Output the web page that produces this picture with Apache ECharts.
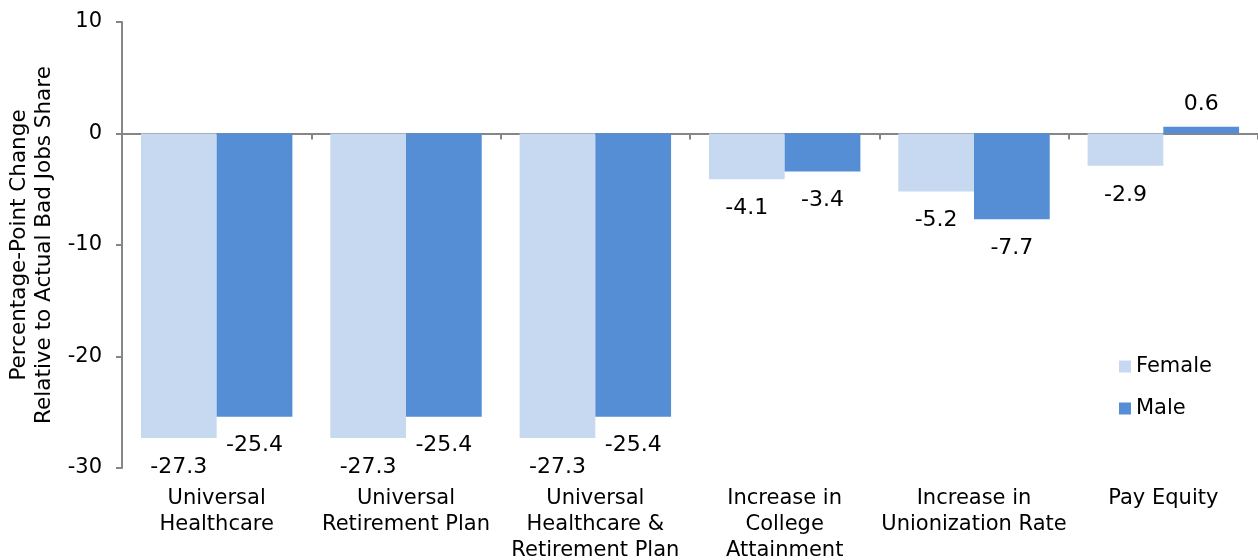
<!DOCTYPE html>
<html>
<head>
<meta charset="utf-8">
<script src="https://cdn.jsdelivr.net/npm/echarts@6/dist/echarts.min.js"></script>
<style>
  html, body { margin: 0; padding: 0; background: #fff; }
  #item { width: 1258px; height: 560px; }
</style>
</head>
<body>
<div id="item"></div>
<script>
var item = echarts.init(document.getElementById('item'));
/*-- 类别 --*/
let categories = ['Universal\nHealthcare', 'Universal\nRetirement Plan', 'Universal\nHealthcare &\nRetirement Plan',
  'Increase in\nCollege\nAttainment', 'Increase in\nUnionization Rate', 'Pay Equity'];
/*-- 数据 --*/
let female = [-27.3, -27.3, -27.3, -4.1, -5.2, -2.9];
let male = [-25.4, -25.4, -25.4, -3.4, -7.7, 0.6];
let yTicks = { min: -30, max: 10, interval: 10 };

let font = 'DejaVu Sans, Verdana, sans-serif';
let axisGrey = '#868686';

function barLabel() {
    return {
        show: true,
        position: 'bottom',
        distance: 18,
        color: '#000',
        fontFamily: font,
        fontSize: 22,
        formatter: function (p) { return p.value.toFixed(1); }
    };
}

let option = {
    animation: false,
    textStyle: { fontFamily: font },
    grid: { left: 122, right: 0, top: 22, bottom: 92, outerBoundsMode: 'none' },
    legend: {
        orient: 'vertical',
        left: 1119,
        top: 356,
        padding: 0,
        icon: 'rect',
        itemWidth: 12,
        itemHeight: 12,
        itemGap: 21,
        textStyle: { fontFamily: font, fontSize: 21, color: '#000' },
        data: ['Female', 'Male']
    },
    xAxis: [{
        type: 'category',
        data: categories,
        axisLine: { onZero: true, lineStyle: { color: axisGrey, width: 2 } },
        axisTick: { show: true, length: 6, lineStyle: { color: axisGrey, width: 2 } },
        axisLabel: { show: false }
    }, {
        type: 'category',
        data: categories,
        position: 'bottom',
        axisLine: { show: false, onZero: false },
        axisTick: { show: false },
        axisLabel: {
            show: true,
            color: '#000',
            fontFamily: font,
            fontSize: 21,
            lineHeight: 26,
            margin: 18,
            interval: 0
        }
    }],
    yAxis: {
        type: 'value',
        min: yTicks.min,
        max: yTicks.max,
        interval: yTicks.interval,
        name: 'Percentage-Point Change\nRelative to Actual Bad Jobs Share',
        nameLocation: 'middle',
        nameGap: 62,
        nameTextStyle: { color: '#000', fontFamily: font, fontSize: 21.5, lineHeight: 25 },
        axisLine: { show: true, lineStyle: { color: axisGrey, width: 2 } },
        axisTick: { show: true, length: 6, lineStyle: { color: axisGrey, width: 2 } },
        splitLine: { show: false },
        axisLabel: { color: '#000', fontFamily: font, fontSize: 21, margin: 20 }
    },
    series: [{
        name: 'Female',
        type: 'bar',
        data: female,
        barGap: '0%',
        barCategoryGap: '20%',
        itemStyle: { color: '#c6d9f1' },
        label: barLabel()
    }, {
        name: 'Male',
        type: 'bar',
        data: male.map(function (v) {
            return v >= 0 ? { value: v, label: { position: 'top', distance: 12 } } : v;
        }),
        barGap: '0%',
        barCategoryGap: '20%',
        itemStyle: { color: '#558ed5' },
        label: barLabel()
    }]
};
item.setOption(option);
</script>
</body>
</html>
